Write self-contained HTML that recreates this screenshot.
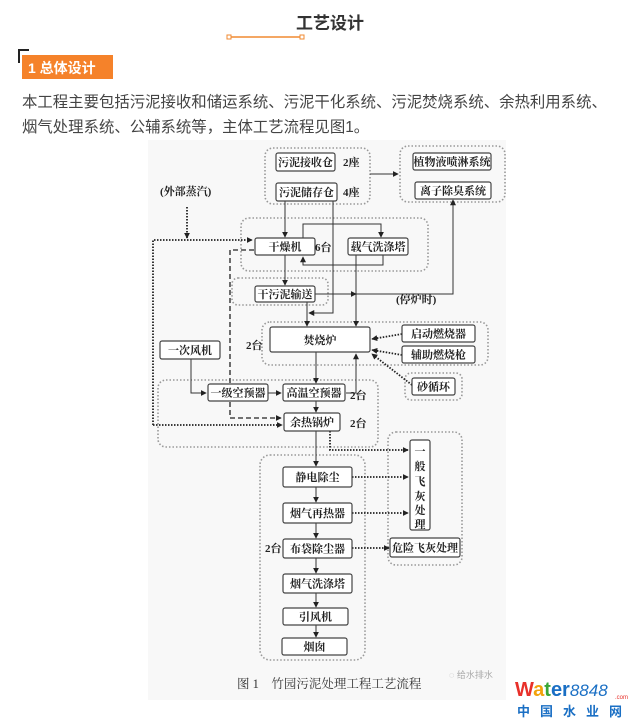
<!DOCTYPE html>
<html><head><meta charset="utf-8"><style>
html,body{margin:0;padding:0;background:#fff;}
svg{display:block;}
.t{font-family:"Liberation Serif","Noto Serif CJK SC",serif;font-size:11px;fill:#222;font-weight:bold;}
.s{font-family:"Liberation Sans","Noto Sans CJK SC",sans-serif;}
.b{fill:#fff;stroke:#444;stroke-width:1.2;}
.g{fill:none;stroke:#999;stroke-width:1.6;stroke-dasharray:1.5 2;}
.l{fill:none;stroke:#333;stroke-width:1;}
.d{fill:none;stroke:#222;stroke-width:1.8;stroke-dasharray:1.5 1.5;}
.k{fill:none;stroke:#222;stroke-width:1.3;stroke-dasharray:5 3;}
</style></head><body>
<svg width="642" height="724" viewBox="0 0 642 724" xmlns="http://www.w3.org/2000/svg">
<defs><marker id="a" viewBox="0 0 8 8" refX="7" refY="4" markerWidth="6" markerHeight="6" markerUnits="userSpaceOnUse" orient="auto"><path d="M0,0 L8,4 L0,8z" fill="#222"/></marker></defs>
<!-- header -->
<text x="330" y="29" text-anchor="middle" class="s" font-size="17" font-weight="bold" fill="#333">工艺设计</text>
<line x1="229" y1="37" x2="302" y2="37" stroke="#f08a30" stroke-width="1.5"/>
<rect x="227" y="35" width="4" height="4" fill="#fff" stroke="#f08a30"/>
<rect x="300" y="35" width="4" height="4" fill="#fff" stroke="#f08a30"/>
<path d="M19,63 V50 H29" fill="none" stroke="#222" stroke-width="2"/>
<rect x="22" y="55" width="91" height="24" fill="#f5822a"/>
<text x="28" y="73" class="s" font-size="14" font-weight="bold" fill="#fff">1 总体设计</text>
<text x="22" y="107" class="s" font-size="15.4" fill="#444">本工程主要包括污泥接收和储运系统、污泥干化系统、污泥焚烧系统、余热利用系统、</text>
<text x="22" y="132" class="s" font-size="15.4" fill="#444">烟气处理系统、公辅系统等，主体工艺流程见图1。</text>
<!-- diagram bg -->
<rect x="148" y="140" width="358" height="560" fill="#f8f8f8"/>
<!-- groups -->
<rect class="g" x="265" y="148" width="105" height="56" rx="8"/>
<rect class="g" x="400" y="146" width="105" height="56" rx="8"/>
<rect class="g" x="241" y="218" width="187" height="53" rx="8"/>
<rect class="g" x="232" y="278" width="96" height="27" rx="6"/>
<rect class="g" x="262" y="322" width="226" height="43" rx="8"/>
<rect class="g" x="405" y="373" width="57" height="27" rx="6"/>
<rect class="g" x="158" y="380" width="220" height="67" rx="8"/>
<rect class="g" x="388" y="432" width="74" height="133" rx="8"/>
<rect class="g" x="260" y="455" width="105" height="205" rx="10"/>
<!-- connectors -->
<path class="l" d="M370,174 H398" marker-end="url(#a)"/>
<path class="l" d="M285,201 V237" marker-end="url(#a)"/>
<path class="l" d="M333,201 V313 H309" marker-end="url(#a)"/>
<path class="l" d="M303,238 V224 H381 V237" marker-end="url(#a)"/>
<path class="l" d="M383,255 V265 H303 V257" marker-end="url(#a)"/>
<path class="l" d="M356,255 V326" marker-end="url(#a)"/>
<path class="l" d="M285,255 V285" marker-end="url(#a)"/>
<path class="l" d="M315,294 H453 V200" marker-end="url(#a)"/>
<path class="l" d="M315,294 H356" marker-end="url(#a)"/>
<path class="l" d="M307,302 V326" marker-end="url(#a)"/>
<path class="d" d="M187,207 V238" marker-end="url(#a)"/>
<path class="d" d="M153,425 V240 H252" marker-end="url(#a)"/>
<path class="d" d="M153,425 H282" marker-end="url(#a)"/>
<path class="k" d="M254,250 H230 V418 H281" marker-end="url(#a)"/>
<path class="l" d="M191,359 V393 H206" marker-end="url(#a)"/>
<path class="l" d="M268,393 H281" marker-end="url(#a)"/>
<path class="l" d="M316,352 V383" marker-end="url(#a)"/>
<path class="l" d="M346,393 H356 V354" marker-end="url(#a)"/>
<path class="l" d="M316,401 V412" marker-end="url(#a)"/>
<path class="l" d="M316,431 V466" marker-end="url(#a)"/>
<path class="d" d="M402,334 L372,339" marker-end="url(#a)"/>
<path class="d" d="M402,355 L372,350" marker-end="url(#a)"/>
<path class="d" d="M412,385 L372,354" marker-end="url(#a)"/>
<path class="d" d="M330,431 V450 H408" marker-end="url(#a)"/>
<path class="d" d="M352,477 H408" marker-end="url(#a)"/>
<path class="d" d="M352,513 H408" marker-end="url(#a)"/>
<path class="d" d="M352,548 H389" marker-end="url(#a)"/>
<path class="l" d="M316,487 V502" marker-end="url(#a)"/>
<path class="l" d="M316,523 V538" marker-end="url(#a)"/>
<path class="l" d="M316,558 V573" marker-end="url(#a)"/>
<path class="l" d="M316,593 V607" marker-end="url(#a)"/>
<path class="l" d="M316,625 V637" marker-end="url(#a)"/>
<!-- boxes -->
<rect class="b" x="276" y="153" width="59" height="18" rx="2"/><text class="t" x="305.5" y="166" text-anchor="middle">污泥接收仓</text>
<text class="t" x="343" y="166">2座</text>
<rect class="b" x="276" y="183" width="61" height="18" rx="2"/><text class="t" x="306.5" y="196" text-anchor="middle">污泥储存仓</text>
<text class="t" x="343" y="196">4座</text>
<rect class="b" x="413" y="153" width="78" height="17" rx="2"/><text class="t" x="452" y="165.5" text-anchor="middle">植物液喷淋系统</text>
<rect class="b" x="415" y="182" width="76" height="17" rx="2"/><text class="t" x="453" y="194.5" text-anchor="middle">离子除臭系统</text>
<text class="t" x="160" y="195">(外部蒸汽)</text>
<rect class="b" x="255" y="238" width="60" height="17" rx="2"/><text class="t" x="285" y="250.5" text-anchor="middle">干燥机</text>
<text class="t" x="315" y="251">6台</text>
<rect class="b" x="348" y="238" width="60" height="17" rx="2"/><text class="t" x="378" y="250.5" text-anchor="middle">载气洗涤塔</text>
<rect class="b" x="255" y="286" width="60" height="16" rx="2"/><text class="t" x="285" y="298" text-anchor="middle">干污泥输送</text>
<text class="t" x="396" y="303">(停炉时)</text>
<rect class="b" x="270" y="327" width="100" height="25" rx="2"/><text class="t" x="320" y="344" text-anchor="middle">焚烧炉</text>
<text class="t" x="246" y="349">2台</text>
<rect class="b" x="402" y="325" width="73" height="17" rx="2"/><text class="t" x="438.5" y="337.5" text-anchor="middle">启动燃烧器</text>
<rect class="b" x="402" y="346" width="73" height="17" rx="2"/><text class="t" x="438.5" y="358.5" text-anchor="middle">辅助燃烧枪</text>
<rect class="b" x="412" y="378" width="43" height="17" rx="2"/><text class="t" x="433.5" y="390.5" text-anchor="middle">砂循环</text>
<rect class="b" x="160" y="341" width="60" height="18" rx="2"/><text class="t" x="190" y="354" text-anchor="middle">一次风机</text>
<rect class="b" x="208" y="384" width="60" height="17" rx="2"/><text class="t" x="238" y="396.5" text-anchor="middle">一级空预器</text>
<rect class="b" x="283" y="384" width="62" height="17" rx="2"/><text class="t" x="314" y="396.5" text-anchor="middle">高温空预器</text>
<text class="t" x="350" y="399">2台</text>
<rect class="b" x="284" y="413" width="56" height="18" rx="2"/><text class="t" x="312" y="426" text-anchor="middle">余热锅炉</text>
<text class="t" x="350" y="427">2台</text>
<rect class="b" x="410" y="440" width="20" height="90" rx="2"/>
<text class="t" x="420" y="455" text-anchor="middle">一</text><text class="t" x="420" y="470" text-anchor="middle">般</text><text class="t" x="420" y="485" text-anchor="middle">飞</text><text class="t" x="420" y="500" text-anchor="middle">灰</text><text class="t" x="420" y="514" text-anchor="middle">处</text><text class="t" x="420" y="528" text-anchor="middle">理</text>
<rect class="b" x="390" y="538" width="70" height="19" rx="2"/><text class="t" x="425" y="551.5" text-anchor="middle">危险飞灰处理</text>
<rect class="b" x="283" y="467" width="69" height="20" rx="2"/><text class="t" x="317.5" y="481" text-anchor="middle">静电除尘</text>
<rect class="b" x="283" y="503" width="69" height="20" rx="2"/><text class="t" x="317.5" y="517" text-anchor="middle">烟气再热器</text>
<rect class="b" x="283" y="539" width="69" height="19" rx="2"/><text class="t" x="317.5" y="552.5" text-anchor="middle">布袋除尘器</text>
<text class="t" x="265" y="552">2台</text>
<rect class="b" x="283" y="574" width="69" height="19" rx="2"/><text class="t" x="317.5" y="587.5" text-anchor="middle">烟气洗涤塔</text>
<rect class="b" x="283" y="608" width="65" height="17" rx="2"/><text class="t" x="315.5" y="620.5" text-anchor="middle">引风机</text>
<rect class="b" x="282" y="638" width="65" height="17" rx="2"/><text class="t" x="314.5" y="650.5" text-anchor="middle">烟囱</text>
<text x="237" y="688" font-size="12.5" fill="#333" font-family="Liberation Serif,Noto Serif CJK SC,serif">图 1　竹园污泥处理工程工艺流程</text>
<!-- watermark / logo -->
<text x="449" y="678" class="s" font-size="9" fill="#aaa">◌ 给水排水</text>
<text x="515" y="696" class="s" font-size="20" font-weight="bold"><tspan fill="#e8302a">W</tspan><tspan fill="#f2a20c">a</tspan><tspan fill="#3aa635">t</tspan><tspan fill="#1a6fc4">er</tspan><tspan fill="#1a6fc4" font-style="italic" font-weight="normal" font-size="17">8848</tspan></text>
<text x="615" y="699" class="s" font-size="6" fill="#e8302a">.com</text>
<text x="517" y="716" class="s" font-size="13" font-weight="bold" fill="#1a6fc4" letter-spacing="10">中国水业网</text>
</svg>
</body></html>
